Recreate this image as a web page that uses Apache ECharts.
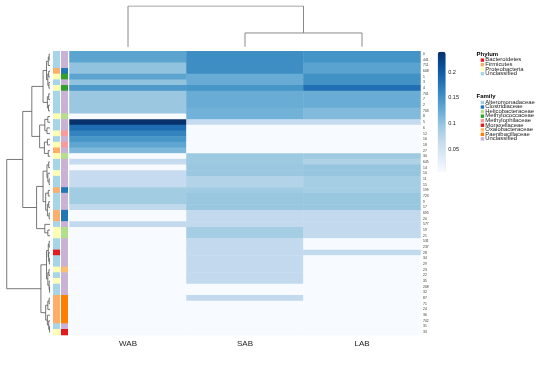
<!DOCTYPE html>
<html><head><meta charset="utf-8">
<script src="https://cdn.jsdelivr.net/npm/echarts@6/dist/echarts.min.js"></script>
<style>html,body{margin:0;padding:0;background:#fff}#c{width:544px;height:366px}</style>
</head><body><div id="c"></div>
<script>
// ---------- data ----------
const samples = ['WAB', 'SAB', 'LAB'];
const rowLabels = ['0','441','711','608','1','3','4','701','7','2','703','8','5','6','12','16','18','27','30','645','14','10','11','15','199','723','9','17','695','20','577','19','21','531','237','28','34','29','23','22','35','268','32','87','71','24','36','702','31','33'];
const wab = [0.133,0.133,0.100,0.100,0.133,0.100,0.145,0.095,0.095,0.095,0.095,0.005,0.240,0.185,0.165,0.148,0.132,0.112,0.005,0.064,0.005,0.064,0.064,0.064,0.090,0.090,0.090,0.068,0.005,0.005,0.066,0.005,0.005,0.005,0.005,0.005,0.005,0.005,0.005,0.005,0.005,0.005,0.005,0.005,0.005,0.005,0.005,0.005,0.005,0.005];
const sab = [0.155,0.155,0.155,0.155,0.125,0.125,0.148,0.124,0.124,0.124,0.118,0.118,0.064,0.005,0.005,0.005,0.005,0.005,0.093,0.093,0.095,0.095,0.078,0.078,0.092,0.096,0.096,0.096,0.066,0.066,0.066,0.088,0.088,0.066,0.066,0.066,0.066,0.066,0.066,0.066,0.066,0.005,0.005,0.066,0.005,0.005,0.005,0.005,0.005,0.005];
const lab = [0.150,0.150,0.135,0.135,0.153,0.153,0.183,0.124,0.124,0.124,0.110,0.110,0.064,0.005,0.005,0.005,0.005,0.005,0.093,0.080,0.098,0.098,0.088,0.088,0.088,0.096,0.096,0.096,0.066,0.066,0.066,0.066,0.066,0.005,0.005,0.066,0.005,0.005,0.005,0.005,0.005,0.005,0.005,0.005,0.005,0.005,0.005,0.005,0.005,0.005];
const phylum = ['Unclassified','Unclassified','Unclassified','Firmicutes','Proteobacteria','Unclassified','Proteobacteria','Unclassified','Unclassified','Unclassified','Unclassified','Proteobacteria','Unclassified','Unclassified','Proteobacteria','Unclassified','Proteobacteria','Firmicutes','Proteobacteria','Unclassified','Unclassified','Proteobacteria','Unclassified','Unclassified','Firmicutes','Unclassified','Unclassified','Unclassified','Firmicutes','Firmicutes','Unclassified','Proteobacteria','Proteobacteria','Unclassified','Unclassified','Bacteroidetes','Unclassified','Unclassified','Proteobacteria','Unclassified','Proteobacteria','Unclassified','Unclassified','Firmicutes','Firmicutes','Firmicutes','Firmicutes','Firmicutes','Unclassified','Proteobacteria'];
const family = ['Unclassified','Unclassified','Unclassified','Clostridiaceae','Methylococcaceae','Unclassified','Methylococcaceae','Unclassified','Unclassified','Unclassified','Unclassified','Helicobacteraceae','Unclassified','Unclassified','Methylophilaceae','Unclassified','Methylophilaceae','Unclassified','Helicobacteraceae','Unclassified','Unclassified','Unclassified','Unclassified','Unclassified','Clostridiaceae','Unclassified','Unclassified','Unclassified','Clostridiaceae','Clostridiaceae','Unclassified','Helicobacteraceae','Helicobacteraceae','Unclassified','Unclassified','Unclassified','Unclassified','Unclassified','Oxalobacteraceae','Unclassified','Unclassified','Unclassified','Unclassified','Paenibacillaceae','Paenibacillaceae','Paenibacillaceae','Paenibacillaceae','Paenibacillaceae','Unclassified','Moraxellaceae'];
const phylumNames = ['Bacteroidetes','Firmicutes','Proteobacteria','Unclassified'];
const phylumColors = ['#e41a1c','#fdae6b','#ffffb3','#a6d5e9'];
const familyNames = ['Alteromonadaceae','Clostridiaceae','Helicobacteraceae','Methylococcaceae','Methylophilaceae','Moraxellaceae','Oxalobacteraceae','Paenibacillaceae','Unclassified'];
const familyColors = ['#a6cee3','#1f78b4','#b2df8a','#33a02c','#fb9a99','#e31a1c','#fdbf6f','#ff7f00','#cab2d6'];
const colorTicks = [0.05, 0.1, 0.15, 0.2];
const valueMin = 0.005, valueMax = 0.24;
const blues = ['#f7fbff','#deebf7','#c6dbef','#9ecae1','#6baed6','#4292c6','#2171b5','#08519c','#08306b'];
// dendrograms: [height, left, right], leaves = index
const rowTree =
[1.0,
  [0.63,
    [0.42,
      [0.16,
        [0.08, [0.04, [0.02, 0, 1], 2], [0.05, [0.03, 3, 4], [0.025, 5, 6]]],
        [0.06, [0.03, 7, 8], [0.035, 9, 10]]],
      [0.24,
        [0.12, [0.05, 11, 12], [0.07, 13, 14]],
        [0.13, [0.06, 15, 16], [0.04, 17, 18]]]],
    [0.31,
      [0.16,
        [0.07, [0.03, 19, 20], [0.05, 21, [0.02, 22, 23]]],
        [0.10, [0.04, 24, 25], [0.06, [0.03, 26, 27], [0.02, 28, 29]]]],
      [0.12, 30, [0.05, 31, 32]]]],
  [0.21,
    [0.08,
      [0.04, [0.02, 33, 34], [0.03, 35, [0.015, 36, 37]]],
      [0.05, [0.025, 38, 39], [0.02, 40, [0.01, 41, 42]]]],
    [0.10,
      [0.05, [0.02, 43, 44], 45],
      [0.06, 46, [0.03, 47, [0.01, 48, 49]]]]]];
const colTree = [1.0, 0, [0.337, 1, 2]];

// ---------- build ----------
const values = [wab, sab, lab];
const heatData = [];
values.forEach((col, c) => col.forEach((v, r) => heatData.push([c, r, v])));

const annData = [];
phylum.forEach((p, r) => annData.push({value: [0, r], itemStyle: {color: phylumColors[phylumNames.indexOf(p)]}}));
family.forEach((f, r) => annData.push({value: [1, r], itemStyle: {color: familyColors[familyNames.indexOf(f)]}}));

function dendro(tree, toXY) {
  const out = [];
  (function walk(n) {
    if (typeof n === 'number') return {p: n, h: 0};
    const a = walk(n[1]), b = walk(n[2]);
    out.push({coords: [toXY(a.p, a.h), toXY(a.p, n[0]), toXY(b.p, n[0]), toXY(b.p, b.h)]});
    return {p: (a.p + b.p) / 2, h: n[0]};
  })(tree);
  return out;
}
const rowSegs = dendro(rowTree, (p, h) => [h, p]);
const colSegs = dendro(colTree, (p, h) => [p + 0.5, h]);

const HM_TOP = 51.3, HM_H = 283.7;

const graphics = [];
function legendBlock(title, names, colors, y0) {
  graphics.push({type: 'text', x: 476.5, y: y0, scaleY: 0.85,
    style: {text: title, font: 'bold 6px "Liberation Sans", Arial', fill: '#000', verticalAlign: 'middle'}});
  names.forEach((n, i) => {
    const y = y0 + 5.8 + i * 4.55;
    graphics.push({type: 'rect', shape: {x: 480.7, y: y - 1.7, width: 3.4, height: 3.4}, style: {fill: colors[i]}});
    graphics.push({type: 'text', x: 485.3, y: y, scaleY: 0.8,
      style: {text: n, font: '5.9px "Liberation Sans", Arial', fill: '#222', verticalAlign: 'middle'}});
  });
}
legendBlock('Phylum', phylumNames, phylumColors, 54.3);
legendBlock('Family', familyNames, familyColors, 96.7);

const option = {
  animation: false,
  backgroundColor: '#fff',
  grid: [
    {left: 69.5, top: HM_TOP, width: 351, height: HM_H},      // heatmap
    {left: 53, top: HM_TOP, width: 16, height: HM_H},         // annotations
    {left: 5, top: HM_TOP, width: 45, height: HM_H},          // row dendrogram
    {left: 69.5, top: 6, width: 351, height: 40.7},           // col dendrogram
    {left: 437.7, top: 51.7, width: 8, height: 120.3}         // colorbar axis
  ],
  xAxis: [
    {gridIndex: 0, type: 'category', data: samples, position: 'bottom', axisLine: {show: false}, axisTick: {show: false},
     axisLabel: {fontSize: 8, color: '#1a1a1a', margin: 5, fontFamily: 'Liberation Sans, Arial'}},
    {gridIndex: 1, type: 'category', data: ['Phylum', 'Family'], show: false},
    {gridIndex: 2, type: 'value', min: 0, max: 1.04, inverse: true, show: false},
    {gridIndex: 3, type: 'value', min: 0, max: 3, show: false},
    {gridIndex: 4, type: 'value', min: 0, max: 1, show: false}
  ],
  yAxis: [
    {gridIndex: 0, type: 'category', data: rowLabels, inverse: true, position: 'right', axisLine: {show: false}, axisTick: {show: false},
     axisLabel: {interval: 0, fontSize: 3.4, margin: 2.5, color: '#333', fontFamily: 'Liberation Sans, Arial'}},
    {gridIndex: 1, type: 'category', data: rowLabels, inverse: true, show: false},
    {gridIndex: 2, type: 'value', min: -0.5, max: rowLabels.length - 0.5, inverse: true, show: false},
    {gridIndex: 3, type: 'value', min: 0, max: 1, show: false},
    {gridIndex: 4, type: 'value', min: valueMin, max: valueMax, position: 'right', axisLine: {show: false}, axisTick: {show: false}, splitLine: {show: false},
     axisLabel: {customValues: colorTicks, fontSize: 5.6, margin: 2.5, color: '#222', fontFamily: 'Liberation Sans, Arial'}}
  ],
  visualMap: {
    type: 'continuous', min: valueMin, max: valueMax, seriesIndex: 0, calculable: false,
    orient: 'vertical', left: 437.7, top: 51.7, itemWidth: 8, itemHeight: 120.3, padding: 0,
    inRange: {color: blues}, text: null, showLabel: false
  },
  series: [
    {type: 'heatmap', xAxisIndex: 0, yAxisIndex: 0, data: heatData, itemStyle: {borderWidth: 0}},
    {type: 'custom', xAxisIndex: 1, yAxisIndex: 1, data: annData,
     renderItem: (params, api) => {
       const p = api.coord([api.value(0), api.value(1)]);
       const s = api.size([1, 1]);
       return {type: 'rect', shape: {x: p[0] - s[0] / 2, y: p[1] - s[1] / 2 - 0.3, width: s[0] - 1, height: s[1] + 0.6},
               style: {fill: api.visual('color')}};
     }},
    {type: 'lines', coordinateSystem: 'cartesian2d', xAxisIndex: 2, yAxisIndex: 2, polyline: true, data: rowSegs,
     lineStyle: {color: '#555', width: 0.8, opacity: 1}, silent: true},
    {type: 'lines', coordinateSystem: 'cartesian2d', xAxisIndex: 3, yAxisIndex: 3, polyline: true, data: colSegs,
     lineStyle: {color: '#888', width: 1, opacity: 1}, silent: true}
  ],
  graphic: graphics
};
const chart = echarts.init(document.getElementById('c'), null, {renderer: 'canvas'});
chart.setOption(option);
</script>
</body></html>
